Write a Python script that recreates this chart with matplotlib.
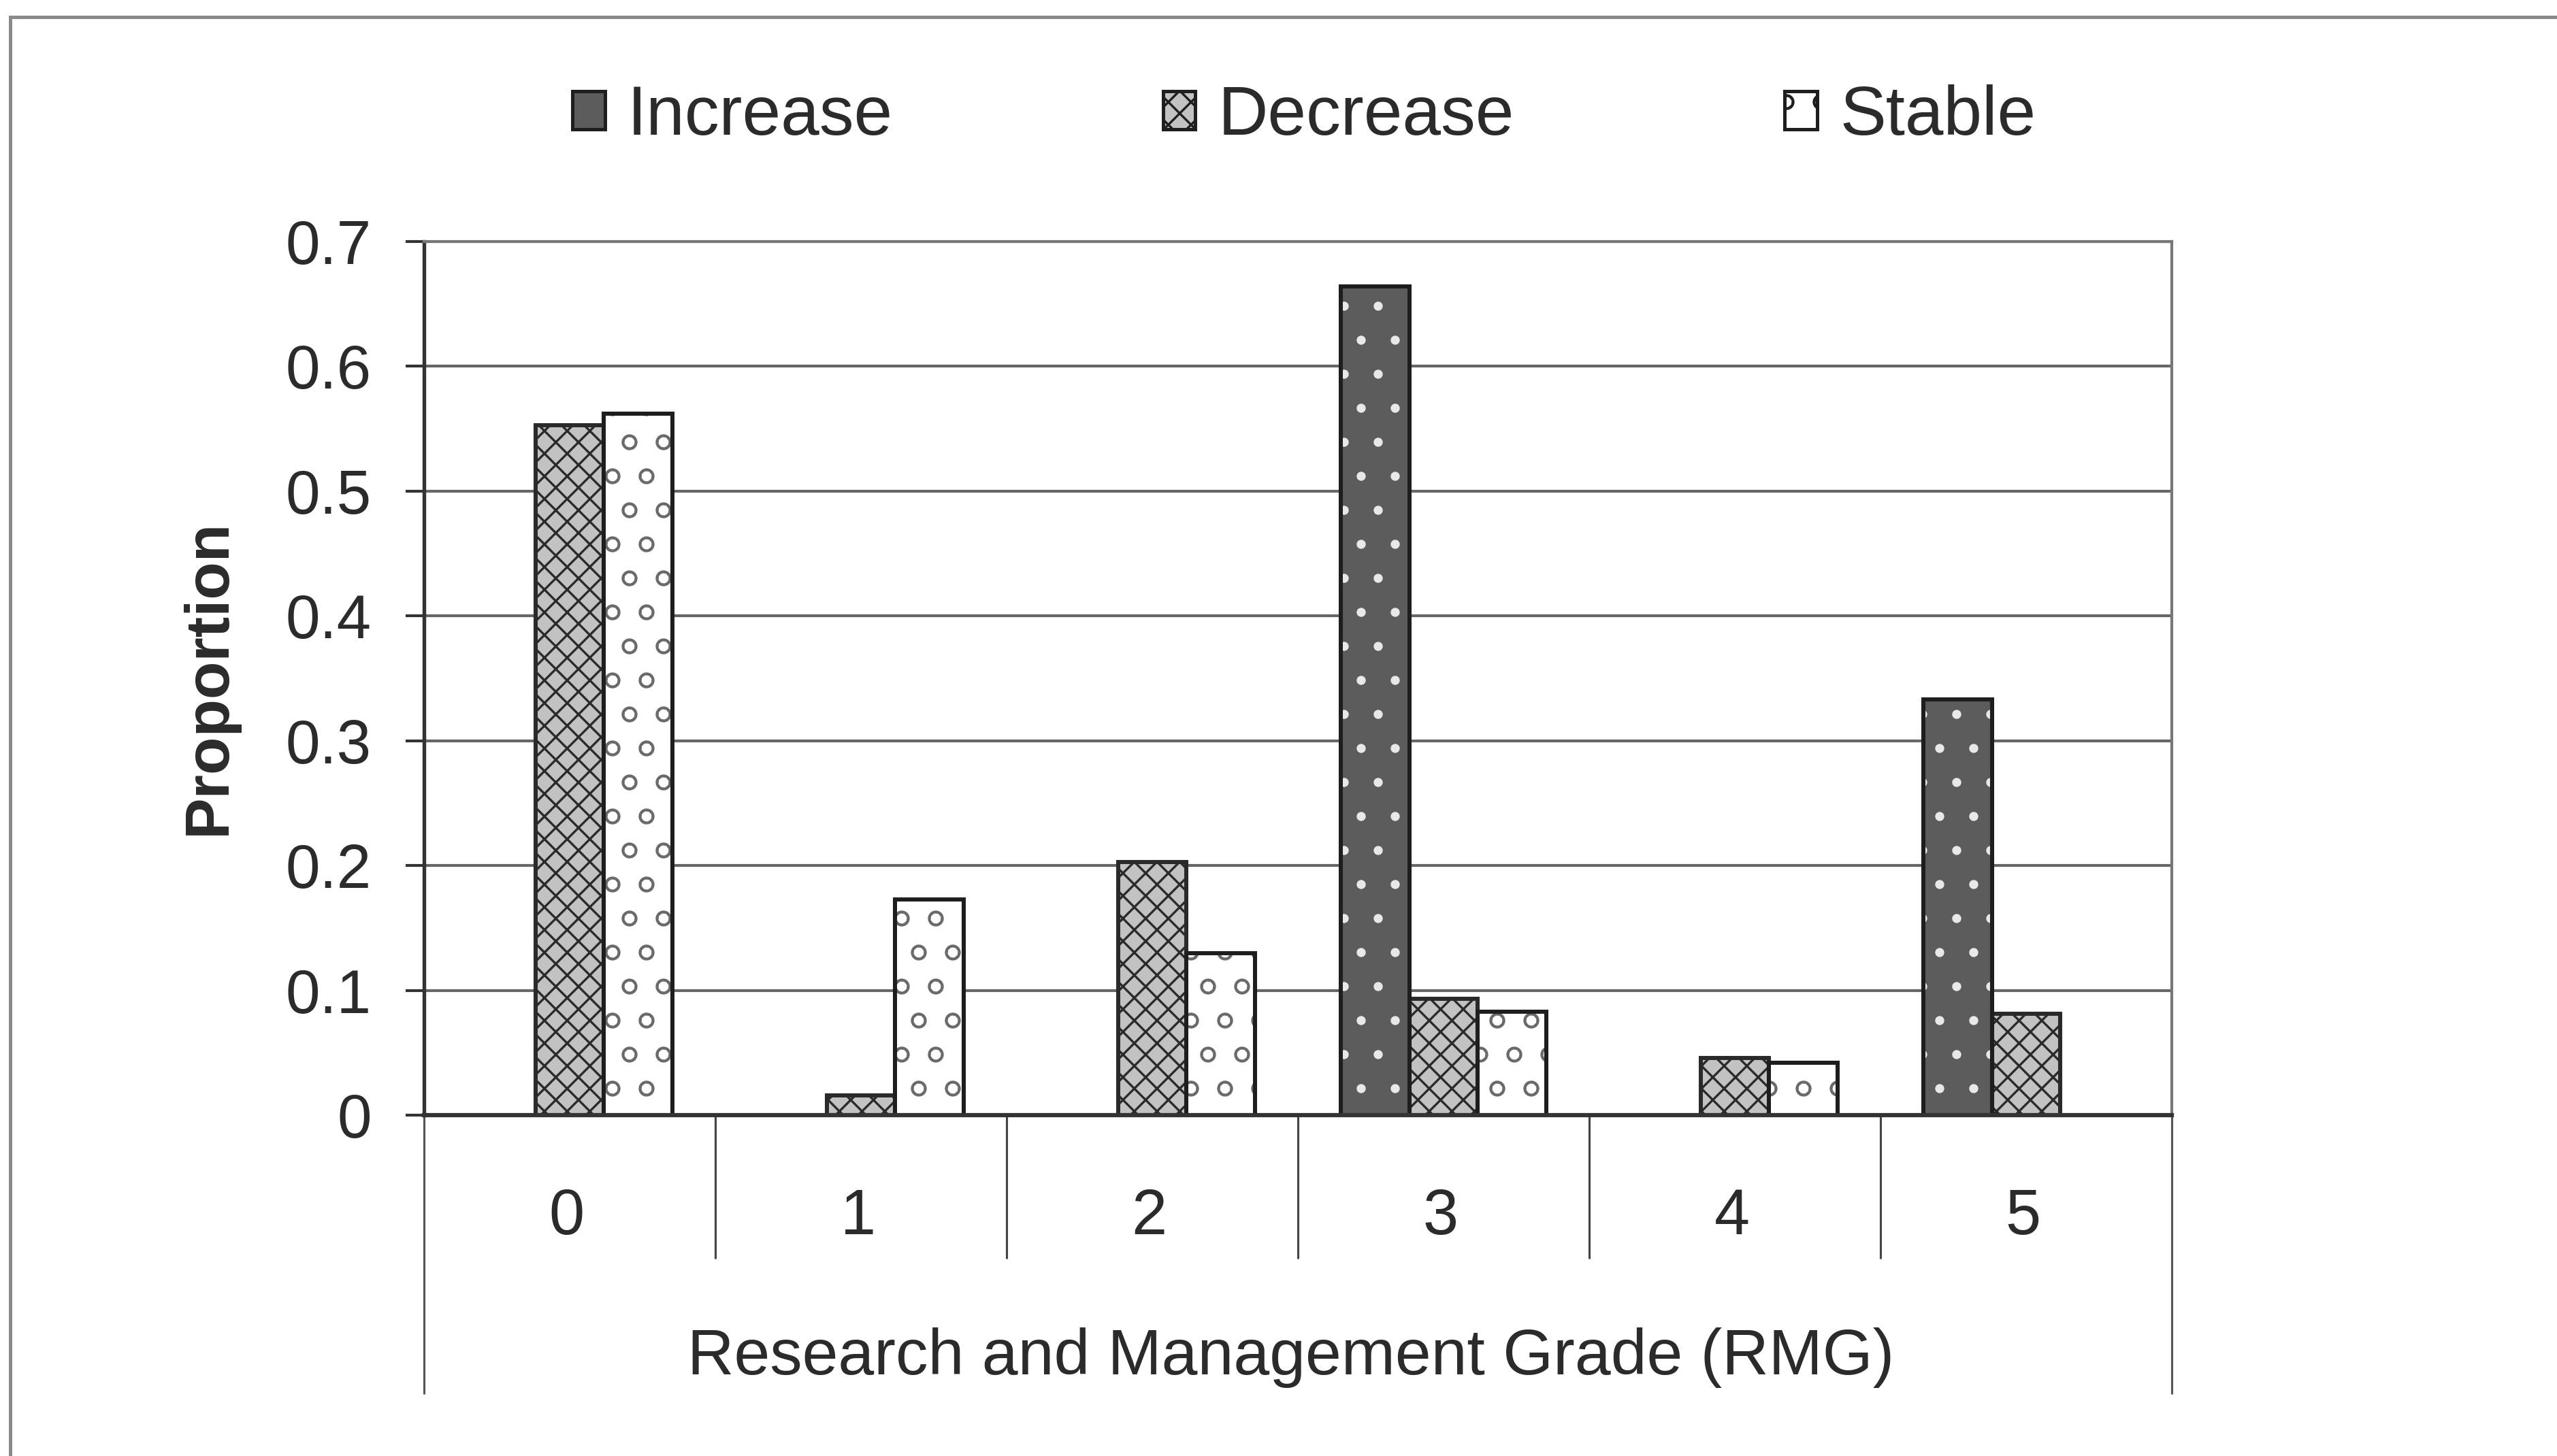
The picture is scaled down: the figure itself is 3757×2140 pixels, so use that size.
import matplotlib
matplotlib.use("Agg")
import matplotlib.pyplot as plt
from matplotlib.patches import Patch
from matplotlib.lines import Line2D
import numpy as np

# Proportion of sites by Research and Management Grade (RMG)
grades = ["0", "1", "2", "3", "4", "5"]
increase = [0.0, 0.0, 0.0, 0.664, 0.0, 0.333]
decrease = [0.553, 0.016, 0.203, 0.093, 0.046, 0.081]
stable = [0.562, 0.173, 0.130, 0.083, 0.042, 0.0]
series_names = ["Increase", "Decrease", "Stable"]
y_ticks = [0.0, 0.1, 0.2, 0.3, 0.4, 0.5, 0.6, 0.7]
y_tick_labels = ["0", "0.1", "0.2", "0.3", "0.4", "0.5", "0.6", "0.7"]
x_title = "Research and Management Grade (RMG)"
y_title = "Proportion"

plt.rcParams["font.family"] = ["Liberation Sans", "DejaVu Sans"]
plt.rcParams["hatch.linewidth"] = 0.8

TXT = "#2b2b2b"
EDGE = "#1e1e1e"
W, H, DPI = 3757, 2140, 300

fig = plt.figure(figsize=(W / DPI, H / DPI), dpi=DPI)
fig.patch.set_facecolor("white")

ax_l, ax_r, ax_t, ax_b = 623, 3191, 355, 1639
ax = fig.add_axes([ax_l / W, 1 - ax_b / H, (ax_r - ax_l) / W, (ax_b - ax_t) / H])

x = np.arange(len(grades))
bw = 0.235

# Increase: dark fill with white dots, then a dark outline on top
ax.bar(x - bw, increase, bw, facecolor="#5c5c5c", edgecolor="#e8e8e8",
       hatch=".", linewidth=0, zorder=2)
ax.bar(x - bw, increase, bw, fill=False, edgecolor=EDGE, linewidth=1.45, zorder=2.1)
# Decrease: grey cross-hatch
ax.bar(x, decrease, bw, facecolor="#c2c2c2", edgecolor="#2a2a2a",
       hatch="xxx", linewidth=1.45, zorder=2)
# Stable: white with small open marks
ax.bar(x + bw, stable, bw, facecolor="white", edgecolor="#6a6a6a",
       hatch="o", linewidth=0, zorder=2)
ax.bar(x + bw, stable, bw, fill=False, edgecolor=EDGE, linewidth=1.45, zorder=2.1)

ax.set_xlim(-0.5, len(grades) - 0.5)
ax.set_ylim(0, 0.7)

# y axis
ax.set_yticks(y_ticks, y_tick_labels)
ax.tick_params(axis="y", direction="out", length=6.5, width=1.0, color="#333333",
               pad=12, labelsize=21.8, labelcolor=TXT)
ax.yaxis.grid(True, color="#666666", linewidth=1.0)
ax.set_axisbelow(True)

# x axis: category labels and separators below the plot area
ax.set_xticks([])
xt = ax.get_xaxis_transform()
for xi, g in zip(x, grades):
    ax.text(xi - 0.01, -0.136, g, transform=xt, ha="center", va="baseline",
            fontsize=22.5, color=TXT)
bounds = np.arange(len(grades) + 1) - 0.5
ax.vlines(bounds[1:-1], -0.164, 0, transform=xt, colors="#444444",
          linewidth=0.75, clip_on=False)
ax.vlines([bounds[0], bounds[-1]], -0.319, 0, transform=xt, colors="#555555",
          linewidth=0.75, clip_on=False)

ax.set_xlabel(x_title, fontsize=22.8, color=TXT)
ax.xaxis.set_label_coords(0.496, -0.297)
ax.xaxis.label.set_va("baseline")

ax.set_ylabel(y_title, fontsize=21.8, color=TXT, fontweight="bold")
ax.yaxis.set_label_coords(-0.123, 0.502)
ax.yaxis.label.set(va="center", ha="center", rotation_mode="default")

for side in ("top", "right"):
    ax.spines[side].set_color("#777777")
    ax.spines[side].set_linewidth(1.0)
ax.spines["left"].set_color("#333333")
ax.spines["left"].set_linewidth(1.3)
ax.spines["bottom"].set_color("#333333")
ax.spines["bottom"].set_linewidth(1.5)

# legend
handles = [
    Patch(facecolor="#5c5c5c", edgecolor=EDGE, linewidth=1.2),
    Patch(facecolor="#c2c2c2", edgecolor=EDGE, hatch="xxx", linewidth=1.2),
    Patch(facecolor="white", edgecolor=EDGE, hatch="o", linewidth=1.2),
]
fig.legend(handles, series_names, loc="center", bbox_to_anchor=(0.510, 0.920),
           ncol=3, frameon=False, fontsize=24.4, handlelength=0.47,
           handleheight=0.47, handletextpad=0.33, columnspacing=3.9,
           borderpad=0, borderaxespad=0, labelcolor=TXT)

# outer chart frame
fx, fy = 15 / W, 1 - 25 / H
fig.add_artist(Line2D([fx, fx], [0, fy], transform=fig.transFigure,
                      color="#8a8a8a", linewidth=1.2))
fig.add_artist(Line2D([fx, 1], [fy, fy], transform=fig.transFigure,
                      color="#8a8a8a", linewidth=1.2))

fig.savefig("out.png", dpi=DPI, facecolor="white")
